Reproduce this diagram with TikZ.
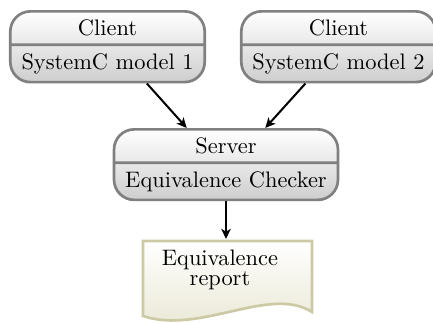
\documentclass[tikz,border=0pt]{standalone}
\usetikzlibrary{shapes.multipart,arrows.meta}
\definecolor{boxline}{RGB}{128,128,128}
\definecolor{boxfill}{RGB}{206,206,206}
\definecolor{docline}{RGB}{204,202,164}
\definecolor{docfill}{RGB}{232,230,210}

\begin{document}
\begin{tikzpicture}[x=0.446pt, y=-0.446pt,
  unit/.style={rectangle split, rectangle split parts=2, draw=boxline, very thick,
    rounded corners=9pt, top color=white, bottom color=boxfill,
    inner xsep=5pt, inner ysep=3.2pt},
  flow/.style={line width=0.9pt, -{Stealth[length=4.5pt, width=4.2pt, inset=1.2pt]}}]
\useasboundingbox (0,0) rectangle (433,322);

\node [unit, anchor=north] (client1) at (107.5,10) {Client \nodepart{second} SystemC model 1};
\node [unit, anchor=north] (client2) at (338.5,10) {Client \nodepart{second} SystemC model 2};
\node [unit, anchor=north] (server) at (226,128) {Server \nodepart{second} Equivalence Checker};

% report sheet with a wavy lower edge
\shadedraw [top color=white, bottom color=docfill, draw=docline, very thick]
  (143,241) -- (312,241) -- (312,312) .. controls (270,285) and (200,335) .. (143,316) -- cycle;
\coordinate (doctop) at (226,239);
\node [align=center] (report) at (220,269.5) {Equivalence\\[-3pt]report};

\draw [flow] (client1.-43) -- (server.137);
\draw [flow] (client2.-132) -- (server.43);
\draw [flow] (server.south) -- (doctop);
\end{tikzpicture}
\end{document}
